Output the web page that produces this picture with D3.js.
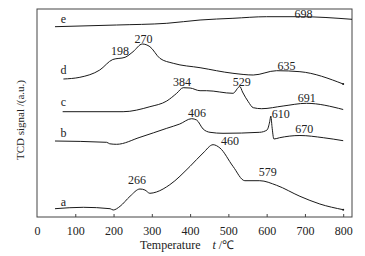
<!DOCTYPE html>
<html>
<head>
<meta charset="utf-8">
<script src="https://cdn.jsdelivr.net/npm/d3@7"></script>
<style>
  body { margin: 0; background: #fff; }
  svg text { font-family: 'Liberation Serif', 'Times New Roman', Times, serif; fill: #222; }
</style>
</head>
<body>
<div id="tpr"></div>
<script>
// temperatures (°C) and TCD signal (arbitrary units, stacked curves)
let tA = [47, 121, 191, 199, 217, 243, 269, 282, 295, 312, 347, 400, 434, 460, 478, 512, 543, 582, 626, 687, 739, 800];
let sA = [8.3, 9.7, 8.3, 7, 10.7, 20.7, 28, 27, 23.7, 25, 32.3, 50.7, 64, 72.3, 69, 50.7, 36.3, 36.3, 31.7, 20.7, 13, 7.3];

let tB = [47, 182, 190, 208, 269, 339, 373, 404, 417, 434, 452, 486, 582, 601, 608, 611, 614, 619, 634, 687, 748, 800];
let sB = [76, 74.7, 73.2, 72.7, 79.7, 88.7, 93, 98.3, 97, 88, 84.7, 83.7, 84.7, 87, 95.3, 101, 90.3, 78, 79.3, 81.5, 79.3, 76.3];

let tC = [67, 225, 295, 339, 365, 382, 400, 426, 443, 512, 530, 537, 552, 565, 587, 643, 704, 800];
let sC = [105.3, 105.3, 110.3, 116, 123.7, 129.3, 129, 126.3, 126.3, 123.7, 130.5, 125, 115.3, 109.3, 108.3, 111, 113.7, 107.5];

let tD = [69, 112, 164, 198, 230, 251, 275, 295, 321, 356, 426, 512, 565, 626, 687, 800];
let sD = [138, 139.7, 147, 157.5, 159.7, 165.3, 173, 170.3, 158.7, 153.7, 149.3, 143.7, 142, 146.3, 145.3, 133];

let tE = [47, 208, 339, 426, 512, 600, 687, 823];
let sE = [190.3, 192, 193.7, 197, 198.7, 200.3, 200.3, 197.7];

let seriesNames = ["a", "b", "c", "d", "e"];
let nameSignal = [15.3, 84.3, 115.3, 147.7, 198.7];

// peak labels: text, temperature position, signal position
let peakText = ["266", "460", "579", "406", "610", "670", "384", "529", "691", "198", "270", "635", "698"];
let peakT = [261, 504, 603, 418, 637, 698, 379, 535, 705, 217, 278, 652, 696];
let peakS = [37.3, 76, 45, 104, 103, 88.7, 135.3, 135.3, 119, 166.3, 178.7, 151, 203];

let xTicks = [0, 100, 200, 300, 400, 500, 600, 700, 800];

let serif = "'Liberation Serif', 'Times New Roman', Times, serif";

// set the dimensions and margins of the graph
let margin = {top: 9, right: 13, bottom: 39, left: 37},
width = 365 - margin.left - margin.right,
height = 256 - margin.top - margin.bottom;

let svg = d3.select("#tpr")
.append("svg")
    .attr("width", width + margin.left + margin.right)
    .attr("height", height + margin.top + margin.bottom)
.append("g")
    .attr("transform", `translate(${margin.left},${margin.top})`);

let x = d3.scaleLinear()
    .domain([0, 823])
    .range([0, width]);

let y = d3.scaleLinear()
    .domain([0, 208])
    .range([height, 0]);

// frame
svg.append("rect")
    .attr("width", width)
    .attr("height", height)
    .attr("fill", "none")
    .attr("stroke", "#444")
    .attr("stroke-width", 1);

// bottom axis, ticks pointing inward
let xAxis = svg.append("g")
    .attr("transform", `translate(0, ${height})`)
    .call(d3.axisBottom(x).tickValues(xTicks).tickSizeInner(-3).tickSizeOuter(0).tickPadding(9));

xAxis.attr("font-family", serif).attr("font-size", 12);
xAxis.select(".domain").remove();
xAxis.selectAll("line").attr("stroke", "#444");
xAxis.selectAll("text").attr("fill", "#222");
xAxis.selectAll(".tick").filter(d => d === 0).select("line").remove();

// curves
let line = d3.line()
    .x(d => x(d[0]))
    .y(d => y(d[1]))
    .curve(d3.curveMonotoneX);

let allT = [tA, tB, tC, tD, tE];
let allS = [sA, sB, sC, sD, sE];

allT.forEach(function(ts, i) {
    let pts = ts.map((t, j) => [t, allS[i][j]]);
    svg.append("path")
        .datum(pts)
        .attr("d", line)
        .attr("fill", "none")
        .attr("stroke", "#1a1a1a")
        .attr("stroke-width", 1);
});

// small end dots
svg.selectAll(".enddot")
    .data([[800, sA[sA.length - 1]], [800, sD[sD.length - 1]]])
    .enter().append("circle")
    .attr("cx", d => x(d[0]))
    .attr("cy", d => y(d[1]))
    .attr("r", 1)
    .attr("fill", "#1a1a1a");

// series letters
svg.selectAll(".sname")
    .data(seriesNames)
    .enter().append("text")
    .attr("x", x(69))
    .attr("y", (d, i) => y(nameSignal[i]))
    .attr("dy", "0.35em")
    .attr("text-anchor", "middle")
    .attr("font-family", serif)
    .attr("font-size", 12)
    .text(d => d);

// peak temperatures
svg.selectAll(".peak")
    .data(peakText)
    .enter().append("text")
    .attr("x", (d, i) => x(peakT[i]))
    .attr("y", (d, i) => y(peakS[i]))
    .attr("dy", "0.35em")
    .attr("text-anchor", "middle")
    .attr("font-family", serif)
    .attr("font-size", 12)
    .text(d => d);

// axis titles
let xt = svg.append("text")
    .attr("x", 103)
    .attr("y", height + 32)
    .attr("font-family", serif)
    .attr("font-size", 12);
xt.append("tspan").text("Temperature");
xt.append("tspan").attr("dx", 12).attr("font-style", "italic").text("t");
xt.append("tspan").text(" /℃");

svg.append("text")
    .attr("transform", `translate(${-13.5}, ${111}) rotate(-90)`)
    .attr("text-anchor", "middle")
    .attr("font-family", serif)
    .attr("font-size", 11)
    .text("TCD signal /(a.u.)");
</script>
</body>
</html>
